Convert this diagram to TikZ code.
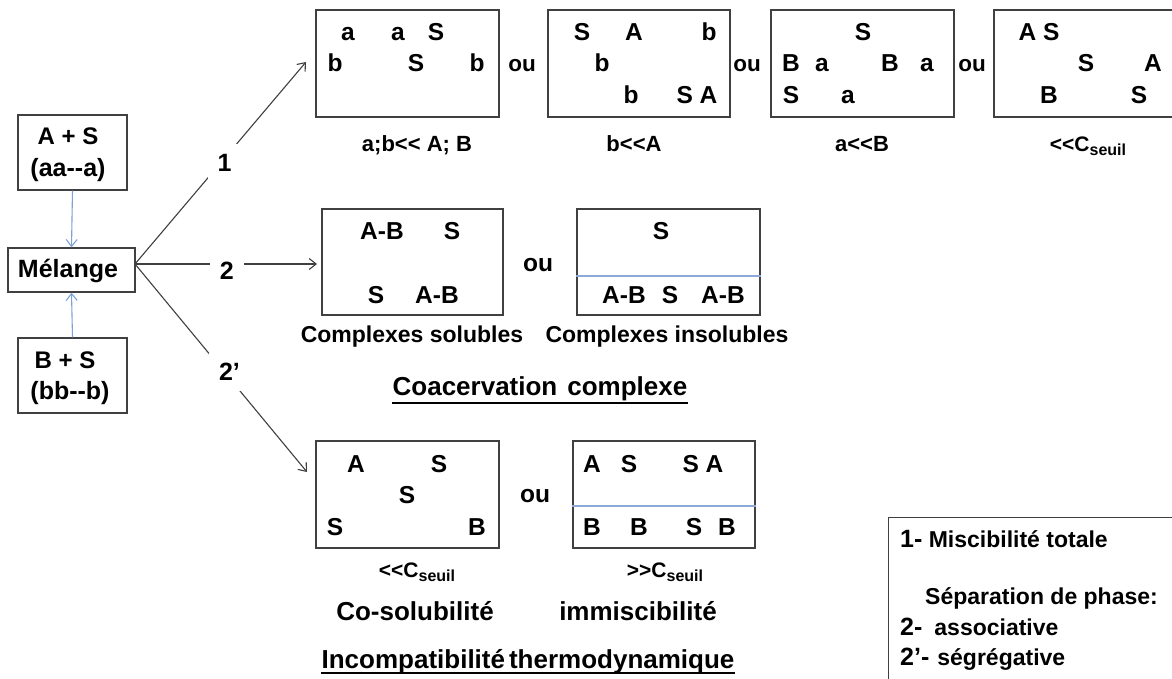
\documentclass[tikz,border=0pt]{standalone}
\usepackage{fontspec}
\setmainfont{Liberation Sans}[Ligatures=TeXOff]
\usetikzlibrary{arrows.meta}
\definecolor{boxc}{HTML}{404040}
\definecolor{arrc}{HTML}{404040}
\definecolor{bluec}{HTML}{7DA3D6}
\definecolor{divc}{HTML}{8EA9D8}
\newcommand\fz[1]{\fontsize{#1}{#1}\selectfont\bfseries}
\newcommand\seuil{\raisebox{-4pt}{\fz{16}seuil}}
\begin{document}
\begin{tikzpicture}[x=1pt,y=-1pt,
  box/.style={draw=boxc,line width=1.3pt,inner sep=0pt},
  lt/.style={font=\fz{24.5},anchor=base,inner sep=0pt},
  sm/.style={font=\fz{22},anchor=base,inner sep=0pt},
  ou/.style={font=\fz{22.5},anchor=base,inner sep=0pt},
  oub/.style={font=\fz{24.5},anchor=base,inner sep=0pt},
  big/.style={font=\fz{26},anchor=base,inner sep=0pt},
  mid/.style={font=\fz{23},anchor=base,inner sep=0pt},
  leg/.style={font=\fz{23},anchor=base west,inner sep=0pt},
  lab/.style={font=\fz{25},fill=white,inner sep=10pt},
  arr/.style={draw=arrc,line width=1.1pt,-{Straight Barb[length=7pt,width=11pt]}},
  barr/.style={draw=bluec,line width=1.1pt,-{Straight Barb[length=7pt,width=11pt]}},
  divl/.style={draw=divc,line width=1.3pt},
  uline/.style={draw=black,line width=1.4pt}]
\useasboundingbox (0,0) rectangle (1172,679);
\clip (0,0) rectangle (1172,679);
\fill[white] (0,0) rectangle (1172,679);

% left boxes
\node[box,minimum width=109pt,minimum height=75pt] (as) at (72.5,152.5) {};
\node[font=\fz{24},anchor=base,inner sep=0pt] (ast) at (68,145) {A + S};
\node[font=\fz{25},anchor=base,inner sep=0pt] (asb) at (68,177) {(aa--a)};
\node[box,minimum width=127pt,minimum height=44pt] (mel) at (71.5,270) {};
\node[font=\fz{25},anchor=base,inner sep=0pt] (melt) at (68,277) {Mélange};
\node[box,minimum width=109pt,minimum height=75pt] (bs) at (72.5,375.5) {};
\node[font=\fz{24},anchor=base,inner sep=0pt] (bst) at (65,368) {B + S};
\node[font=\fz{25},anchor=base,inner sep=0pt] (bsb) at (70,399) {(bb--b)};
\draw[barr] (as.south) -- (mel.north);
\draw[barr] (bs.north) -- (mel.south);

% main connectors
\coordinate (o) at (135,264);
\coordinate (e1) at (306,62);
\coordinate (e2) at (317,264);
\coordinate (e3) at (307,472);
\draw[arr] (o) -- node[lab,pos=0.5,xshift=4pt] (l1) {1} (e1);
\draw[arr] (o) -- node[lab,pos=0.505,yshift=-6.5pt] (l2) {2} (e2);
\draw[arr] (o) -- node[lab,pos=0.52,xshift=5pt] (l3) {2’} (e3);

% top row
\node[box,minimum width=183pt,minimum height=107pt] (b1) at (407.5,63.5) {};
\node[lt] (b1a) at (348,41) {a};
\node[lt] (b1b) at (398,41) {a};
\node[lt] (b1c) at (436,41) {S};
\node[lt] (b1d) at (335,72) {b};
\node[lt] (b1e) at (416,72) {S};
\node[lt] (b1f) at (477,72) {b};
\node[sm] (c1) at (417,152) {a;b<< A; B};

\node[ou] (ou1) at (522,72) {ou};

\node[box,minimum width=182pt,minimum height=107pt] (b2) at (639,63.5) {};
\node[lt] (b2a) at (582,41) {S};
\node[lt] (b2b) at (634,41) {A};
\node[lt] (b2c) at (709,41) {b};
\node[lt] (b2d) at (602,72) {b};
\node[lt] (b2e) at (631,104) {b};
\node[lt] (b2f) at (697,104) {S A};
\node[sm] (c2) at (634,152) {b<<A};

\node[ou] (ou2) at (747,72) {ou};

\node[box,minimum width=183pt,minimum height=107pt] (b3) at (862.5,63.5) {};
\node[lt] (b3a) at (863,41) {S};
\node[lt] (b3b) at (791,72) {B};
\node[lt] (b3c) at (822,72) {a};
\node[lt] (b3d) at (890,72) {B};
\node[lt] (b3e) at (927,72) {a};
\node[lt] (b3f) at (791,104) {S};
\node[lt] (b3g) at (848,104) {a};
\node[sm] (c3) at (862,152) {a<<B};

\node[ou] (ou3) at (972,72) {ou};

\node[box,minimum width=183pt,minimum height=107pt] (b4) at (1085.5,63.5) {};
\node[lt] (b4a) at (1039,41) {A S};
\node[lt] (b4b) at (1086,72) {S};
\node[lt] (b4c) at (1153,72) {A};
\node[lt] (b4d) at (1049,104) {B};
\node[lt] (b4e) at (1139,104) {S};
\node[font=\fz{21},anchor=base,inner sep=0pt] (c4) at (1088,152) {<<C\seuil};

% middle row
\node[box,minimum width=181pt,minimum height=106pt] (b5) at (412.5,262) {};
\node[lt] (b5a) at (382,239) {A-B};
\node[lt] (b5b) at (452,239) {S};
\node[lt] (b5c) at (376,303) {S};
\node[lt] (b5d) at (437,303) {A-B};

\node[oub] (ou4) at (538,271) {ou};

\node[box,minimum width=183pt,minimum height=106pt] (b6) at (668.5,262) {};
\draw[divl] (b6.west |- 0,276) -- (b6.east |- 0,276);
\node[lt] (b6a) at (661,239) {S};
\node[lt] (b6b) at (624,303) {A-B};
\node[lt] (b6c) at (670,303) {S};
\node[lt] (b6d) at (723,303) {A-B};

\node[mid] (c5) at (412,342) {Complexes solubles};
\node[mid] (c6) at (667,342) {Complexes insolubles};
\node[big] (coac) at (540,395) {Coacervation\hspace{10pt}complexe};
\draw[uline] ([yshift=-8pt]coac.base west) -- ([yshift=-8pt]coac.base east);

% bottom row
\node[box,minimum width=183pt,minimum height=107pt] (b7) at (407.5,494.5) {};
\node[lt] (b7a) at (356,472) {A};
\node[lt] (b7b) at (439,472) {S};
\node[lt] (b7c) at (407,503) {S};
\node[lt] (b7d) at (335,535) {S};
\node[lt] (b7e) at (477,535) {B};

\node[oub] (ou5) at (535,502) {ou};

\node[box,minimum width=182pt,minimum height=107pt] (b8) at (664,494.5) {};
\draw[divl] (b8.west |- 0,506) -- (b8.east |- 0,506);
\node[lt] (b8a) at (592,472) {A};
\node[lt] (b8b) at (629,472) {S};
\node[lt] (b8c) at (703,472) {S A};
\node[lt] (b8d) at (592,535) {B};
\node[lt] (b8e) at (639,535) {B};
\node[lt] (b8f) at (694,535) {S};
\node[lt] (b8g) at (727,535) {B};

\node[font=\fz{21},anchor=base,inner sep=0pt] (c7) at (417,577) {<<C\seuil};
\node[font=\fz{21},anchor=base,inner sep=0pt] (c8) at (665,577) {>>C\seuil};
\node[big] (cos) at (415,620) {Co-solubilité};
\node[big] (imm) at (638,620) {immiscibilité};
\node[big] (inc) at (528,668) {Incompatibilité\hspace{4pt}thermodynamique};
\draw[uline] ([yshift=-5pt]inc.base west) -- ([yshift=-5pt]inc.base east);

% legend
\node[box,anchor=north west,minimum width=300pt,minimum height=180pt] (lg) at (888,517) {};
\node[leg] (lg1) at (900,547) {{\fz{25}1-} Miscibilité totale};
\node[leg] (lg2) at (925,604) {Séparation de phase:};
\node[leg] (lg3) at (900,635) {{\fz{25}2-}\hspace{12pt}associative};
\node[leg] (lg4) at (900,665) {{\fz{25}2’-}\hspace{8pt}ségrégative};
\end{tikzpicture}
\end{document}
